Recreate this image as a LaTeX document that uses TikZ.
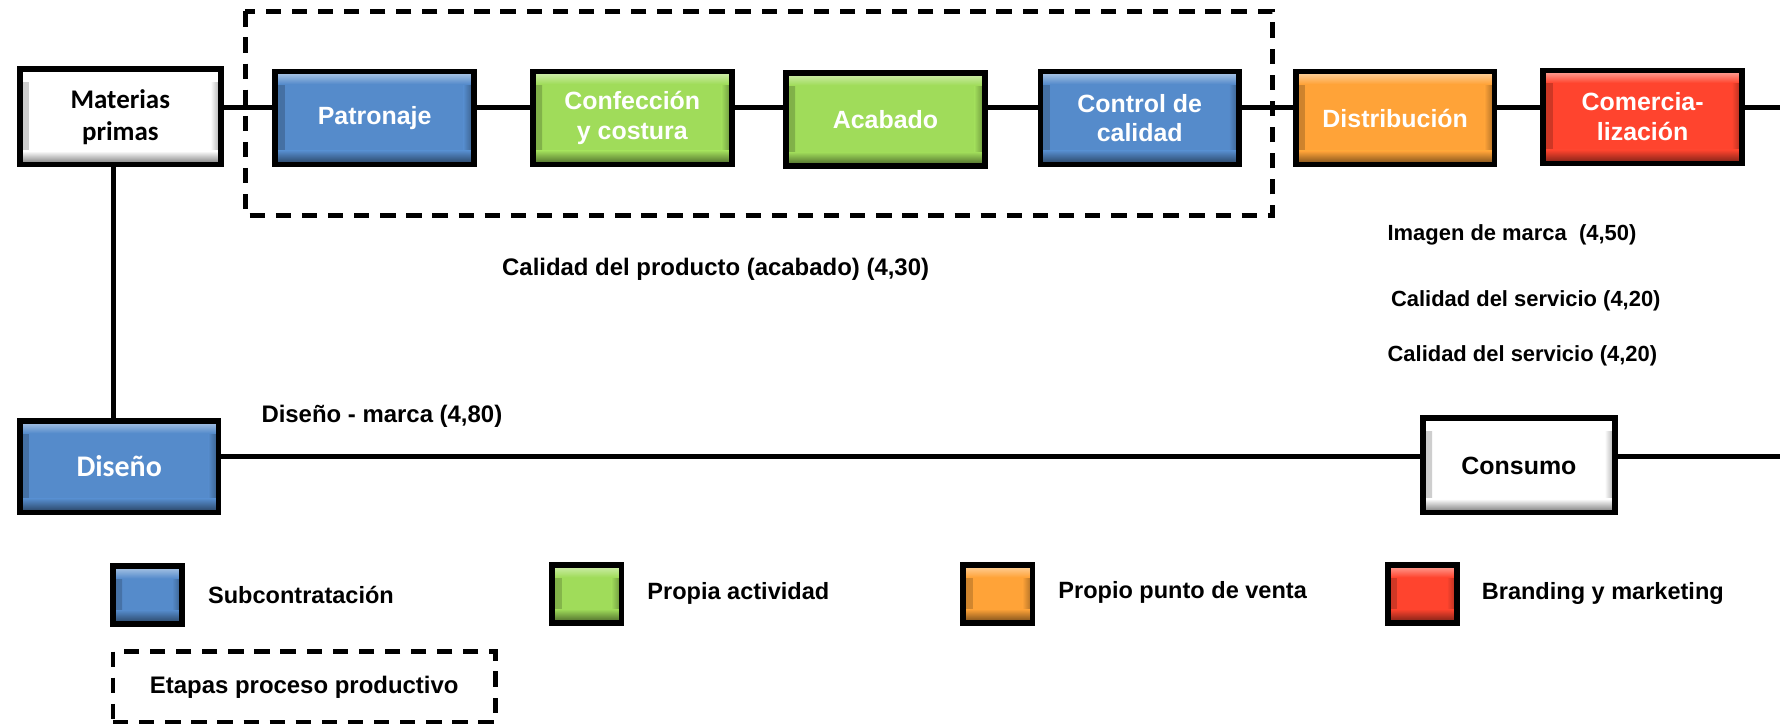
\documentclass[tikz,border=0pt]{standalone}
\usepackage{fontspec}
\setmainfont{Liberation Sans}
\newfontfamily\calibri{Carlito}
\usetikzlibrary{positioning}
\definecolor{azulsub}{RGB}{85,139,203}
\definecolor{verdepropia}{RGB}{160,220,90}
\definecolor{naranjaventa}{RGB}{255,163,56}
\definecolor{rojobrand}{RGB}{255,68,46}
\tikzset{
  bisel/.style={draw=black, line width=2.9pt, fill=#1,
    path picture={
      \fill[left color=#1!80!black, right color=#1] (path picture bounding box.south west) rectangle ([xshift=0.16cm]path picture bounding box.north west);
      \fill[left color=#1, right color=#1!65!black] ([xshift=-0.18cm]path picture bounding box.south east) rectangle (path picture bounding box.north east);
      \fill[top color=#1!45!white, bottom color=#1] (path picture bounding box.north west) rectangle ([yshift=-0.22cm]path picture bounding box.north east);
      \fill[top color=#1, bottom color=#1!45!black] ([yshift=0.24cm]path picture bounding box.south west) rectangle (path picture bounding box.south east);
    }},
  etapa/.style={bisel=#1, minimum width=3.5cm, minimum height=1.64cm, inner sep=0pt,
    text=white, align=center, font=\bfseries\fontsize{12.5}{15}\selectfont},
  extremo/.style={etapa=white, text=black},
  leyenda/.style={bisel=#1, minimum width=1.22cm, minimum height=1.02cm, inner sep=0pt},
  etiqueta/.style={inner sep=0pt, anchor=west, font=\bfseries\fontsize{12}{14}\selectfont},
  etiquetaderecha/.style={inner sep=0pt, anchor=west, font=\bfseries\fontsize{11}{13}\selectfont},
  etiquetaleyenda/.style={inner sep=0pt, anchor=west, font=\bfseries\fontsize{11.8}{14}\selectfont},
  conn/.style={line width=2.5pt},
  etapas/.style={line width=2.3pt, dash pattern=on 0.27cm off 0.19cm},
}
\begin{document}
\begin{tikzpicture}[x=0.02cm, y=0.02cm]
	\useasboundingbox (0,0) rectangle (1568,-640);
	
	% cadena superior
	\node[extremo, minimum width=3.54cm, minimum height=1.68cm, font=\calibri\bfseries\fontsize{13.5}{16}\selectfont] (mp) at (106,-103) {Materias\\primas};
	\node[etapa=azulsub] (pat) at (330,-104) {Patronaje};
	\node[etapa=verdepropia] (conf) at (557,-104) {Confección\\y costura};
	\node[etapa=verdepropia] (acab) at (780,-105) {Acabado};
	\node[etapa=azulsub] (ctrl) at (1004,-104) {Control de\\calidad};
	\node[etapa=naranjaventa] (dist) at (1229,-104) {Distribución};
	\node[etapa=rojobrand] (com) at (1447,-103) {Comercia-\\lización};
	
	% cadena inferior
	\node[etapa=azulsub, minimum height=1.62cm, font=\calibri\bfseries\fontsize{15}{17}\selectfont] (dis) at (105,-411) {Diseño};
	\node[extremo, minimum width=3.38cm, minimum height=1.66cm] (cons) at (1338,-410) {Consumo};
	
	\coordinate (ejeA) at (0,-95);
	\coordinate (ejeB) at (0,-402);
	\coordinate (finA) at (1568,-95);
	\coordinate (finB) at (1568,-402);
	
	\draw[conn] (mp.east |- ejeA) -- (pat.west |- ejeA);
	\draw[conn] (pat.east |- ejeA) -- (conf.west |- ejeA);
	\draw[conn] (conf.east |- ejeA) -- (acab.west |- ejeA);
	\draw[conn] (acab.east |- ejeA) -- (ctrl.west |- ejeA);
	\draw[conn] (ctrl.east |- ejeA) -- (dist.west |- ejeA);
	\draw[conn] (dist.east |- ejeA) -- (com.west |- ejeA);
	\draw[conn] (com.east |- ejeA) -- (finA);
	\draw[conn] ([xshift=-0.12cm]mp.south) -- ([xshift=-0.12cm]mp.south |- dis.north);
	\draw[conn] (dis.east |- ejeB) -- (cons.west |- ejeB);
	\draw[conn] (cons.east |- ejeB) -- (finB);
	
	% etapas del proceso productivo
	\draw[etapas] (216,-10) rectangle (1121,-190);
	
	% valoraciones
	\node[etiqueta] (lblprod) at (442,-237) {Calidad del producto (acabado) (4,30)};
	\node[etiqueta] (lbldis) at (230,-367) {Diseño - marca (4,80)};
	\node[etiquetaderecha] (lblimg) at (1222,-207) {Imagen de marca\ \ (4,50)};
	\node[etiquetaderecha] (lblserA) at (1225,-265) {Calidad del servicio (4,20)};
	\node[etiquetaderecha] (lblserB) at (1222,-313) {Calidad del servicio (4,20)};
	
	% leyenda
	\node[leyenda=azulsub] (leyA) at (130,-524) {};
	\node[etiquetaleyenda] (txtA) at (183,-524) {Subcontratación};
	\node[leyenda=verdepropia] (leyB) at (517,-523) {};
	\node[etiquetaleyenda] (txtB) at (570,-523) {Propia actividad};
	\node[leyenda=naranjaventa] (leyC) at (879,-523) {};
	\node[etiquetaleyenda] (txtC) at (932,-522) {Propio punto de venta};
	\node[leyenda=rojobrand] (leyD) at (1253,-523) {};
	\node[etiquetaleyenda] (txtD) at (1305,-523) {Branding y marketing};
	\node[etapas, draw, minimum width=6.74cm, minimum height=1.24cm, font=\bfseries\fontsize{12}{14}\selectfont] (leyE) at (268,-605) {Etapas proceso productivo};
	
\end{tikzpicture}
\end{document}
